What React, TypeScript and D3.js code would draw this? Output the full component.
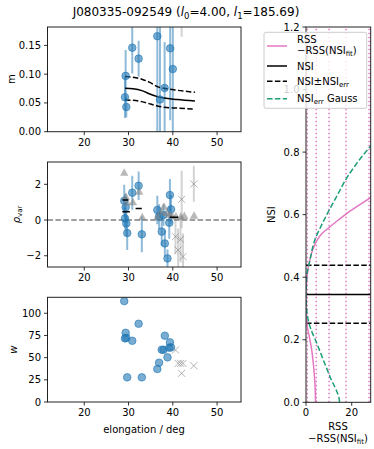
import * as d3 from 'd3';
import React from 'react';

// ---- data ----
const xTicksL = [20, 30, 40, 50];
const mTicks = [0, 0.05, 0.1, 0.15];
const rhoTicks = [-2, 0, 2];
const wTicks = [0, 25, 50, 75, 100];
const nsiTicks = [0, 0.2, 0.4, 0.6, 0.8, 1.0, 1.2];
const rssTicks = [0, 20];

// panel 1: m vs elongation (blue, with errors)
const mElong = [29.35, 29.2, 29.5, 30.84, 32.28, 36.5, 37.1, 38.15, 39.4, 40.0];
const mVals = [0.097, 0.06, 0.043, 0.146, 0.127, 0.166, 0.056, 0.076, 0.145, 0.109];
const mErrs = [0.045, 0.036, 0.018, 0.045, 0.031, 0.17, 0.13, 0.08, 0.125, 0.11];
const mGreyElong = [42.0];
const mGreyVals = [0.26];
const mGreyErrs = [0.095];
const nsiFitElong = [29.2, 31, 33, 35, 36.5, 38, 41, 45];
const nsiFit = [0.0756, 0.0745, 0.0714, 0.065, 0.061, 0.0585, 0.056, 0.0533];
const nsiFitHi = [0.0958, 0.0945, 0.0913, 0.085, 0.0784, 0.0756, 0.072, 0.0686];
const nsiFitLo = [0.0552, 0.0545, 0.0523, 0.048, 0.0448, 0.0425, 0.041, 0.039];

// panel 2: rho_var
const rhoElong = [29.03, 29.35, 29.2, 29.5, 29.7, 30.84, 32.28, 33.0, 36.5, 36.9, 37.5, 37.9, 38.2, 38.8, 39.35, 39.2, 39.6];
const rhoVals = [1.08, 0.71, 0.09, -0.19, -0.73, 1.53, 1.92, -0.8, 0.56, 0.19, -0.65, 0.28, -1.31, -2.15, 1.4, -0.15, 0.6];
const rhoErrs = [0.9, 0.75, 0.6, 0.7, 0.95, 0.95, 0.8, 1.0, 0.8, 0.7, 0.8, 0.6, 0.75, 0.5, 0.9, 0.9, 0.8];
const rhoGreyElong = [40.6, 41.2, 41.75, 42.0, 42.3, 44.75];
const rhoGreyVals = [-0.93, -1.68, -1.08, 1.16, -2.05, 2.02];
const rhoGreyErrs = [1.0, 1.2, 1.3, 1.6, 1.3, 1.0];
const triElong = [29.03, 29.4, 29.6, 31.0, 32.4, 33.1, 36.5, 37.4, 38.0, 38.6, 39.3, 39.9, 40.7, 41.8, 42.6, 44.8];
const triVals = [2.65, 1.3, 1.0, 1.0, 1.58, 0.15, 0.15, 0.45, 0.75, 0.4, 0.3, 0.22, 0.2, 0.18, 0.22, 0.24];
const segStart = [28.6, 28.6, 31.6, 39.3];
const segEnd = [29.97, 30.3, 33.0, 41.2];
const segVals = [1.12, 0.47, 0.65, 0.15];

// panel 3: w
const wElong = [29.03, 29.35, 29.2, 29.5, 30.84, 32.28, 29.7, 33.0, 36.5, 36.9, 37.5, 37.9, 38.2, 38.8, 39.35, 39.2, 39.6];
const wVals = [113.7, 78.0, 71.7, 72.4, 69.0, 88.2, 27.8, 27.8, 37.2, 44.3, 58.9, 58.9, 74.7, 50.3, 67.2, 61.2, 61.6];
const wGreyElong = [40.6, 41.2, 41.75, 42.3, 42.0, 44.75];
const wGreyVals = [58.6, 43.5, 43.5, 43.5, 32.3, 40.9];

// right panel: NSI vs RSS - RSS(NSI_fit)
const nsiBest = 0.345;
const nsiHi = 0.438;
const nsiLo = 0.2526;
const rssLevels = [0.57, 4.5, 10.1, 17.5, 27.6];
const pinkRss = [4.2, 3.9, 3.2, 2.5, 1.45, 0.3, 0.05, 0, 0.2, 0.57, 1.5, 2.8, 4.5, 7, 10.1, 14, 17.5, 22.5, 28.3];
const pinkNsi = [0.0, 0.061, 0.125, 0.167, 0.21, 0.253, 0.3, 0.345, 0.38, 0.41, 0.45, 0.485, 0.514, 0.54, 0.559, 0.582, 0.602, 0.627, 0.655];
const gaussRss = [14.7, 14.6, 10.5, 7.6, 4.7, 1.75, 0.3, 0, 0.3, 1.75, 3.9, 6.9, 9.8, 13.4, 17.8, 22.2, 28.3];
const gaussNsi = [0.0, 0.007, 0.082, 0.135, 0.189, 0.242, 0.294, 0.345, 0.402, 0.455, 0.52, 0.568, 0.61, 0.658, 0.717, 0.764, 0.82];

const BLUE = '#1f77b4';
const GREY = '#808080';
const PINK = '#e377c2';
const GREEN = '#1b9e77';
const FONT = 'DejaVu Sans, sans-serif';

// ---- scales ----
const xL = d3.scaleLinear().domain([11.7, 55.4]).range([47.5, 241]);
const y1 = d3.scaleLinear().domain([0, 0.182]).range([131.7, 27]);
const y2 = d3.scaleLinear().domain([-2.63, 3.25]).range([267, 162]);
const y3 = d3.scaleLinear().domain([0, 118]).range([402, 297.3]);
const xR = d3.scaleLinear().domain([0, 28.3]).range([306, 370.7]);
const yR = d3.scaleLinear().domain([0, 1.2]).range([402.3, 27]);

const minus = (s: string) => s.replace('-', '\u2212');

function LeftAxis({ y, ticks, fmt, x0 }: any) {
  return (
    <g>
      {ticks.map((t: number) => (
        <g key={t}>
          <line x1={x0 - 3.5} x2={x0} y1={y(t)} y2={y(t)} stroke="#000" strokeWidth={0.8} />
          <text x={x0 - 6.5} y={y(t)} dy="0.35em" textAnchor="end" fontSize={10}>
            {minus(fmt(t))}
          </text>
        </g>
      ))}
    </g>
  );
}

function BottomAxis({ x, ticks, fmt, y0 }: any) {
  return (
    <g>
      {ticks.map((t: number) => (
        <g key={t}>
          <line x1={x(t)} x2={x(t)} y1={y0} y2={y0 + 3.5} stroke="#000" strokeWidth={0.8} />
          <text x={x(t)} y={y0 + 6} dy="0.8em" textAnchor="middle" fontSize={10}>
            {fmt(t)}
          </text>
        </g>
      ))}
    </g>
  );
}

function Frame({ x, y }: any) {
  const [x0, x1] = x.range();
  const [yb, yt] = y.range();
  return <rect x={x0} y={yt} width={x1 - x0} height={yb - yt} fill="none" stroke="#222" strokeWidth={1} />;
}

function ClipDef({ id, x, y }: any) {
  const [x0, x1] = x.range();
  const [yb, yt] = y.range();
  return (
    <clipPath id={id}>
      <rect x={x0} y={yt} width={x1 - x0} height={yb - yt} />
    </clipPath>
  );
}

function Cross({ cx, cy, s = 3.5 }: any) {
  return (
    <g stroke={GREY} strokeOpacity={0.6} strokeWidth={1}>
      <line x1={cx - s} x2={cx + s} y1={cy - s} y2={cy + s} />
      <line x1={cx - s} x2={cx + s} y1={cy + s} y2={cy - s} />
    </g>
  );
}

export default function App() {
  const lineL = (ys: number[], yScale: any) =>
    d3.line<number>().x((d) => xL(d)).y((_, i) => yScale(ys[i])).curve(d3.curveMonotoneX)(nsiFitElong) as string;

  const pinkPath = d3
    .line<number>()
    .x((d) => xR(d))
    .y((_, i) => yR(pinkNsi[i]))
    .curve(d3.curveMonotoneY)(pinkRss) as string;
  const gaussPath = d3
    .line<number>()
    .x((d) => xR(d))
    .y((_, i) => yR(gaussNsi[i]))
    .curve(d3.curveMonotoneY)(gaussRss) as string;

  const fmt2 = d3.format('.2f');
  const fmt1 = d3.format('.1f');
  const fmt0 = d3.format('d');
  const dash = '5.5,2.4';
  const [rx0, rx1] = xR.range();

  return (
    <svg width={374} height={449} style={{ position: 'absolute', left: 0, top: 0, background: '#fff' }} fontFamily={FONT}>
      <defs>
        <ClipDef id="c1" x={xL} y={y1} />
        <ClipDef id="c2" x={xL} y={y2} />
        <ClipDef id="c3" x={xL} y={y3} />
        <ClipDef id="cr" x={xR} y={yR} />
      </defs>

      {/* title */}
      <text x={186} y={16} textAnchor="middle" fontSize={12}>
        J080335-092549 (<tspan fontStyle="italic">l</tspan>
        <tspan fontSize={8.5} dy={2.5}>0</tspan>
        <tspan dy={-2.5}>=4.00, </tspan>
        <tspan fontStyle="italic">l</tspan>
        <tspan fontSize={8.5} dy={2.5}>1</tspan>
        <tspan dy={-2.5}>=185.69)</tspan>
      </text>

      {/* ---- panel 1: m ---- */}
      <g clipPath="url(#c1)">
        {mElong.map((e, i) => (
          <line key={i} x1={xL(e)} x2={xL(e)} y1={y1(mVals[i] - mErrs[i])} y2={y1(mVals[i] + mErrs[i])}
            stroke={BLUE} strokeOpacity={0.5} strokeWidth={2} />
        ))}
        {mGreyElong.map((e, i) => (
          <line key={i} x1={xL(e)} x2={xL(e)} y1={y1(mGreyVals[i] - mGreyErrs[i])} y2={y1(mGreyVals[i] + mGreyErrs[i])}
            stroke={GREY} strokeOpacity={0.35} strokeWidth={2} />
        ))}
        <path d={lineL(nsiFit, y1)} fill="none" stroke="#000" strokeWidth={1.5} />
        <path d={lineL(nsiFitHi, y1)} fill="none" stroke="#000" strokeWidth={1.5} strokeDasharray={dash} />
        <path d={lineL(nsiFitLo, y1)} fill="none" stroke="#000" strokeWidth={1.5} strokeDasharray={dash} />
        {mElong.map((e, i) => (
          <circle key={i} cx={xL(e)} cy={y1(mVals[i])} r={3.8} fill={BLUE} fillOpacity={0.6} stroke={BLUE} strokeOpacity={0.6} />
        ))}
      </g>
      <Frame x={xL} y={y1} />
      <LeftAxis y={y1} ticks={mTicks} fmt={fmt2} x0={47.5} />
      <BottomAxis x={xL} ticks={xTicksL} fmt={fmt0} y0={131.7} />
      <text transform="translate(11,79) rotate(-90)" textAnchor="middle" dy="0.35em" fontSize={10}>m</text>

      {/* ---- panel 2: rho_var ---- */}
      <g clipPath="url(#c2)">
        <line x1={47.5} x2={241} y1={y2(0)} y2={y2(0)} stroke={GREY} strokeWidth={1.5} strokeDasharray={dash} />
        {rhoGreyElong.map((e, i) => (
          <line key={i} x1={xL(e)} x2={xL(e)} y1={y2(rhoGreyVals[i] - rhoGreyErrs[i])} y2={y2(rhoGreyVals[i] + rhoGreyErrs[i])}
            stroke={GREY} strokeOpacity={0.35} strokeWidth={2} />
        ))}
        {rhoElong.map((e, i) => (
          <line key={i} x1={xL(e)} x2={xL(e)} y1={y2(rhoVals[i] - rhoErrs[i])} y2={y2(rhoVals[i] + rhoErrs[i])}
            stroke={BLUE} strokeOpacity={0.5} strokeWidth={2} />
        ))}
        {rhoElong.map((e, i) => (
          <circle key={i} cx={xL(e)} cy={y2(rhoVals[i])} r={3.8} fill={BLUE} fillOpacity={0.6} stroke={BLUE} strokeOpacity={0.6} />
        ))}
        {triElong.map((e, i) => {
          const cx = xL(e);
          const cy = y2(triVals[i]);
          return (
            <path key={i} d={`M${cx},${cy - 4.5}L${cx + 4.2},${cy + 3}L${cx - 4.2},${cy + 3}Z`} fill={GREY} fillOpacity={0.55} />
          );
        })}
        {rhoGreyElong.map((e, i) => (
          <Cross key={i} cx={xL(e)} cy={y2(rhoGreyVals[i])} />
        ))}
        {segVals.map((v, i) => (
          <line key={i} x1={xL(segStart[i])} x2={xL(segEnd[i])} y1={y2(v)} y2={y2(v)} stroke="#000" strokeWidth={1.5} />
        ))}
      </g>
      <Frame x={xL} y={y2} />
      <LeftAxis y={y2} ticks={rhoTicks} fmt={fmt0} x0={47.5} />
      <BottomAxis x={xL} ticks={xTicksL} fmt={fmt0} y0={267} />
      <text transform="translate(16,214.5) rotate(-90)" textAnchor="middle" dy="0.35em" fontSize={10}>
        <tspan fontStyle="italic">ρ</tspan>
        <tspan fontSize={7} dy={2.5}>var</tspan>
      </text>

      {/* ---- panel 3: w ---- */}
      <g clipPath="url(#c3)">
        {wElong.map((e, i) => (
          <circle key={i} cx={xL(e)} cy={y3(wVals[i])} r={3.8} fill={BLUE} fillOpacity={0.6} stroke={BLUE} strokeOpacity={0.6} />
        ))}
        {wGreyElong.map((e, i) => (
          <Cross key={i} cx={xL(e)} cy={y3(wGreyVals[i])} />
        ))}
      </g>
      <Frame x={xL} y={y3} />
      <LeftAxis y={y3} ticks={wTicks} fmt={fmt0} x0={47.5} />
      <BottomAxis x={xL} ticks={xTicksL} fmt={fmt0} y0={402} />
      <text transform="translate(13,349.6) rotate(-90)" textAnchor="middle" dy="0.35em" fontSize={10} fontStyle="italic">w</text>
      <text x={144} y={433} textAnchor="middle" fontSize={10}>elongation / deg</text>

      {/* ---- right panel: NSI ---- */}
      <g clipPath="url(#cr)">
        {rssLevels.map((v, i) => (
          <line key={i} x1={xR(v)} x2={xR(v)} y1={yR(0)} y2={yR(1.2)} stroke={PINK} strokeWidth={1.5} strokeDasharray="1.5,2.5" />
        ))}
        <line x1={rx0} x2={rx1} y1={yR(nsiBest)} y2={yR(nsiBest)} stroke="#000" strokeWidth={1.5} />
        <line x1={rx0} x2={rx1} y1={yR(nsiHi)} y2={yR(nsiHi)} stroke="#000" strokeWidth={1.5} strokeDasharray={dash} />
        <line x1={rx0} x2={rx1} y1={yR(nsiLo)} y2={yR(nsiLo)} stroke="#000" strokeWidth={1.5} strokeDasharray={dash} />
        <path d={pinkPath} fill="none" stroke={PINK} strokeWidth={1.5} />
        <path d={gaussPath} fill="none" stroke={GREEN} strokeWidth={1.5} strokeDasharray={dash} />
      </g>
      <Frame x={xR} y={yR} />
      <LeftAxis y={yR} ticks={nsiTicks} fmt={fmt1} x0={306} />
      <BottomAxis x={xR} ticks={rssTicks} fmt={fmt0} y0={402.3} />
      <text transform="translate(271,214.7) rotate(-90)" textAnchor="middle" dy="0.35em" fontSize={10}>NSI</text>
      <text x={338} y={430} textAnchor="middle" fontSize={10}>RSS</text>
      <text x={338} y={442} textAnchor="middle" fontSize={10}>
        −RSS(NSI<tspan fontSize={7} dy={2}>fit</tspan><tspan dy={-2}>)</tspan>
      </text>

      {/* legend */}
      <g fontSize={10}>
        <rect x={264} y={32.3} width={102.7} height={76} rx={2} fill="#fff" fillOpacity={0.8} stroke="#ccc" strokeWidth={1} />
        <line x1={267} x2={287} y1={46} y2={46} stroke={PINK} strokeWidth={1.5} />
        <text x={297} y={39.3} dy="0.35em">RSS</text>
        <text x={297} y={50.3} dy="0.35em">
          −RSS(NSI<tspan fontSize={7} dy={2}>fit</tspan><tspan dy={-2}>)</tspan>
        </text>
        <line x1={267} x2={287} y1={66} y2={66} stroke="#000" strokeWidth={1.5} />
        <text x={297} y={66} dy="0.35em">NSI</text>
        <line x1={267} x2={287} y1={81.3} y2={81.3} stroke="#000" strokeWidth={1.5} strokeDasharray={dash} />
        <text x={297} y={81.3} dy="0.35em">
          NSI±NSI<tspan fontSize={7} dy={2}>err</tspan>
        </text>
        <line x1={267} x2={287} y1={98.7} y2={98.7} stroke={GREEN} strokeWidth={1.5} strokeDasharray={dash} />
        <text x={297} y={98.7} dy="0.35em">
          NSI<tspan fontSize={7} dy={2}>err</tspan>
          <tspan dy={-2}> Gauss</tspan>
        </text>
      </g>
    </svg>
  );
}
